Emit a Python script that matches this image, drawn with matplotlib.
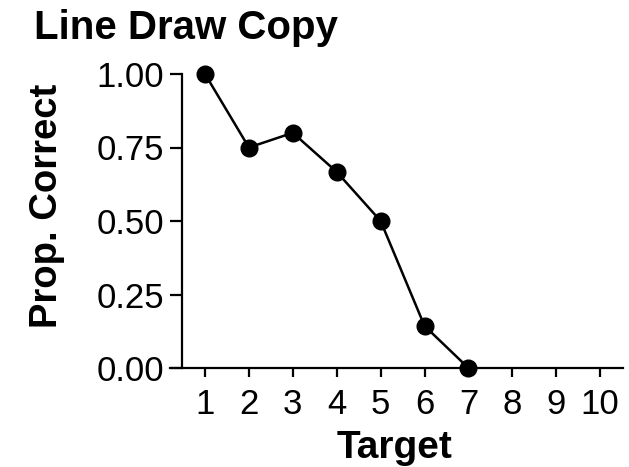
import matplotlib
matplotlib.use("Agg")
import matplotlib.pyplot as plt

targets = [1, 2, 3, 4, 5, 6, 7]
prop_correct = [1.00, 0.75, 0.80, 0.667, 0.50, 0.143, 0.00]
xticks = [1, 2, 3, 4, 5, 6, 7, 8, 9, 10]
yticks = [0.00, 0.25, 0.50, 0.75, 1.00]
ytick_labels = ["0.00", "0.25", "0.50", "0.75", "1.00"]

plt.rcParams['font.family'] = ['Liberation Sans', 'DejaVu Sans']

W, H = 629, 467
fig = plt.figure(figsize=(W / 100, H / 100), dpi=100)
left_px, right_px, top_px, bottom_px = 170, 623, 74, 368
ax = fig.add_axes([left_px / W, 1 - bottom_px / H, (right_px - left_px) / W, (bottom_px - top_px) / H])

ax.plot(targets, prop_correct, color='black', lw=1.8, marker='o', ms=12,
        mfc='black', mec='black', clip_on=False, zorder=5)

ax.set_xlim(0.203, 10.52)
ax.set_ylim(0, 1)
ax.spines['top'].set_visible(False)
ax.spines['right'].set_visible(False)
ax.spines['left'].set_position(('data', 0.476))
for s in ('left', 'bottom'):
    ax.spines[s].set_linewidth(1.6)

ax.set_xticks(xticks)
ax.set_xticklabels([str(t) for t in xticks])
ax.set_yticks(yticks)
ax.set_yticklabels(ytick_labels)
ax.tick_params(axis='y', direction='out', length=8.6, width=1.6, labelsize=25, pad=4)
ax.tick_params(axis='x', direction='out', length=6.5, width=1.6, labelsize=25, pad=8)

fig.text(34 / W, 1 - 39 / H, "Line Draw Copy", fontsize=29, fontweight='bold',
         ha='left', va='baseline')
fig.text(57 / W, 1 - 206 / H, "Prop. Correct", fontsize=27.5, fontweight='bold',
         rotation=90, rotation_mode='anchor', ha='center', va='baseline')
fig.text(395 / W, 1 - 458 / H, "Target", fontsize=28, fontweight='bold',
         ha='center', va='baseline')

fig.savefig("out.png", dpi=100)
